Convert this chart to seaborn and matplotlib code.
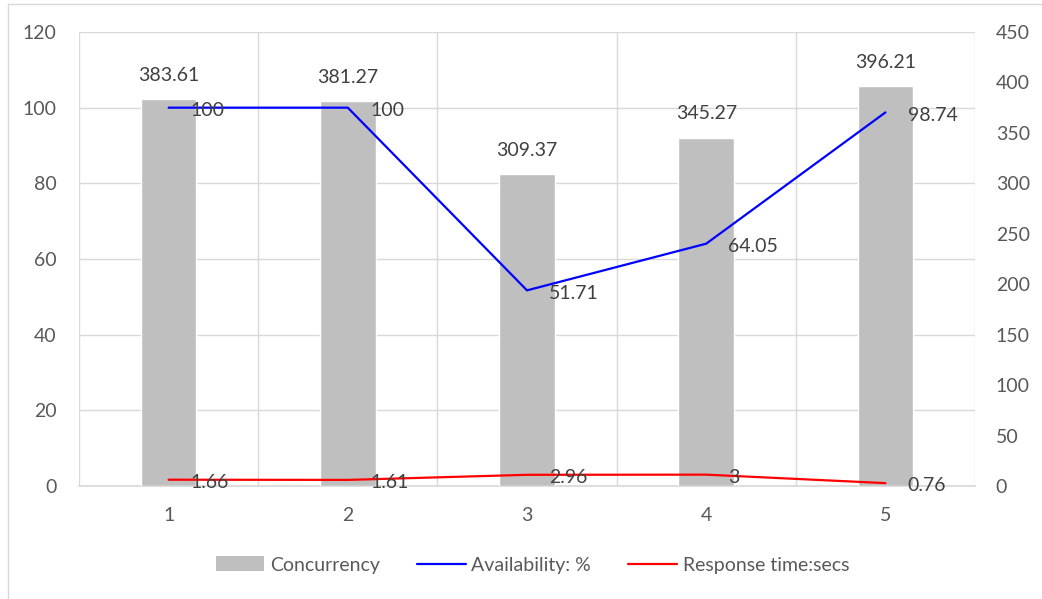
import numpy as np
import pandas as pd
import matplotlib
matplotlib.use("Agg")
import matplotlib.pyplot as plt
from matplotlib.lines import Line2D
from matplotlib.patches import Patch
import seaborn as sns

# Data
runs = ["1", "2", "3", "4", "5"]
concurrency = [383.61, 381.27, 309.37, 345.27, 396.21]
availability = [100, 100, 51.71, 64.05, 98.74]
response_time = [1.66, 1.61, 2.96, 3, 0.76]

sns.set_theme(style="white")
plt.rcParams["font.family"] = ["Lato", "DejaVu Sans"]

TEXT = "#595959"
LABEL = "#404040"
GRID = "#d9d9d9"
BAR = "#bfbfbf"
FS = 14

df = pd.DataFrame({
    "run": runs,
    "pos": np.arange(len(runs)),
    "concurrency": concurrency,
    "availability": availability,
    "response": response_time,
})

fig = plt.figure(figsize=(10.42, 5.99), dpi=100)
rect = [79 / 1042, 113 / 599, 896 / 1042, 454 / 599]

# bottom layer: grid and left axis
ax = fig.add_axes(rect)
# middle layer: concurrency bars on the right axis
axb = fig.add_axes(rect, sharex=ax, frameon=False)
# top layer: lines on the left scale
axl = fig.add_axes(rect, sharex=ax, sharey=ax, frameon=False)

sns.barplot(data=df, x="run", y="concurrency", ax=axb, color=BAR,
            width=0.31, saturation=1)
axb.yaxis.tick_right()
axb.set_ylim(0, 450)
axb.set_yticks(np.arange(0, 451, 50))
for cont in axb.containers:
    axb.bar_label(cont, labels=[f"{v:g}" for v in concurrency],
                  padding=11, fontsize=FS, color=LABEL)

sns.lineplot(data=df, x="pos", y="availability", ax=axl, color="#0000ff",
             linewidth=1.6)
sns.lineplot(data=df, x="pos", y="response", ax=axl, color="#ff0000",
             linewidth=1.6)
for p, v in zip(df["pos"], availability):
    axl.annotate(f"{v:g}", (p, v), xytext=(16, -2), textcoords="offset points",
                 ha="left", va="center", fontsize=FS, color=LABEL)
for p, v in zip(df["pos"], response_time):
    axl.annotate(f"{v:g}", (p, v), xytext=(16, -2), textcoords="offset points",
                 ha="left", va="center", fontsize=FS, color=LABEL)

ax.set_xlim(-0.5, len(runs) - 0.5)
ax.set_ylim(0, 120)
ax.set_yticks(np.arange(0, 121, 20))
ax.set_xticks(np.arange(len(runs)))
ax.set_xticklabels(runs)
ax.set_xticks(np.arange(len(runs) + 1) - 0.5, minor=True)
ax.grid(True, which="major", axis="y", color=GRID, linewidth=1)
ax.grid(True, which="minor", axis="x", color=GRID, linewidth=1)
ax.tick_params(axis="both", which="both", length=0)
ax.tick_params(axis="y", labelsize=FS, labelcolor=TEXT, pad=16)
ax.tick_params(axis="x", labelsize=FS, labelcolor=TEXT, pad=15)
for s in ax.spines.values():
    s.set_visible(False)
ax.spines["bottom"].set_visible(True)
ax.spines["bottom"].set_color(GRID)
ax.set_xlabel("")
ax.set_ylabel("")

axb.tick_params(axis="y", length=0, labelsize=FS, labelcolor=TEXT, pad=15)
axb.tick_params(axis="x", length=0, labelbottom=False)
axb.set_xlabel("")
axb.set_ylabel("")
axb.patch.set_visible(False)

axl.patch.set_visible(False)
axl.tick_params(left=False, bottom=False, labelleft=False, labelbottom=False)
axl.set_xlabel("")
axl.set_ylabel("")

handles = [
    Patch(facecolor=BAR, edgecolor="none", label="Concurrency"),
    Line2D([], [], color="#0000ff", linewidth=1.6, label="Availability: %"),
    Line2D([], [], color="#ff0000", linewidth=1.6, label="Response time:secs"),
]
fig.legend(handles=handles, loc="center", bbox_to_anchor=(0.511, 1 - 565 / 599),
           ncol=3, frameon=False, fontsize=FS, labelcolor=TEXT,
           handlelength=2.5, handleheight=0.8, handletextpad=0.3,
           columnspacing=1.9)

# chart frame
fig.add_artist(Line2D([8 / 1042, 8 / 1042], [0, 1 - 4 / 599], color=GRID,
                      linewidth=1, transform=fig.transFigure))
fig.add_artist(Line2D([8 / 1042, 1], [1 - 4 / 599, 1 - 4 / 599], color=GRID,
                      linewidth=1, transform=fig.transFigure))

fig.savefig("out.png", dpi=100)
